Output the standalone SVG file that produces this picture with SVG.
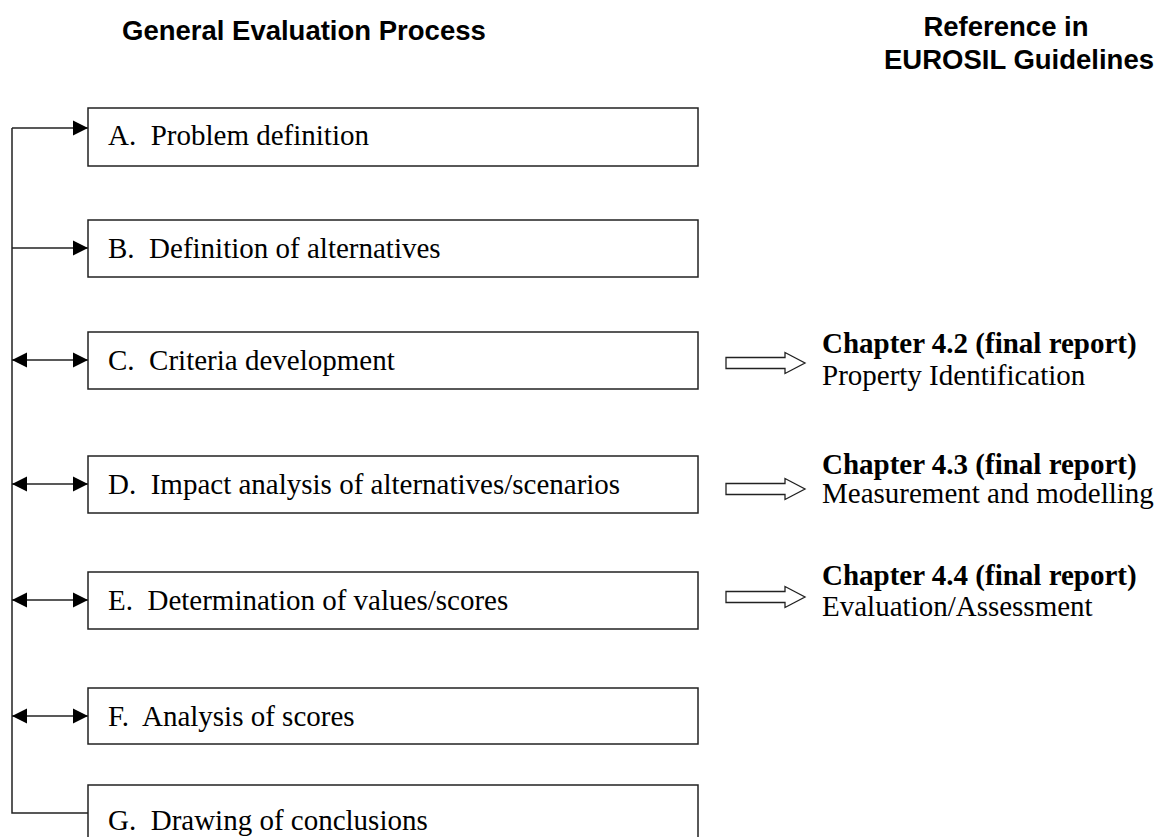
<svg xmlns="http://www.w3.org/2000/svg" width="1159" height="837" viewBox="0 0 1159 837">
<style>
.box{fill:#fff;stroke:#222;stroke-width:1.5}
.bt{font-family:"Liberation Serif","Times New Roman",serif;font-size:29px;fill:#000}
.rb{font-family:"Liberation Serif","Times New Roman",serif;font-size:29px;font-weight:bold;fill:#000}
.h{font-family:"Liberation Sans",Arial,sans-serif;font-size:27.5px;font-weight:bold;fill:#000}
.ln{fill:none;stroke:#222;stroke-width:1.5}
.hol{fill:#fff;stroke:#222;stroke-width:1.3}
</style>
<defs>
<marker id="ah" viewBox="0 0 10 10" refX="10" refY="5" markerWidth="15" markerHeight="16" markerUnits="userSpaceOnUse" orient="auto-start-reverse">
<path d="M0,0 L10,5 L0,10 z" fill="#000"/>
</marker>
<path id="hollow" d="M0,-5.5 H59 V-10.5 L79,0 L59,10.5 V5.5 H0 Z"/>
</defs>
<rect width="1159" height="837" fill="#fff"/>
<g id="headings">
<text class="h" x="122" y="40">General Evaluation Process</text>
<text class="h" x="1006" y="36" text-anchor="middle">Reference in</text>
<text class="h" x="1019" y="69" text-anchor="middle">EUROSIL Guidelines</text>
</g>
<g id="connectors">
<path class="ln" d="M12,128 V813 H88"/>
<line class="ln" x1="12" y1="128" x2="88" y2="128" marker-end="url(#ah)"/>
<line class="ln" x1="12" y1="248" x2="88" y2="248" marker-end="url(#ah)"/>
<line class="ln" x1="12" y1="360" x2="88" y2="360" marker-start="url(#ah)" marker-end="url(#ah)"/>
<line class="ln" x1="12" y1="484" x2="88" y2="484" marker-start="url(#ah)" marker-end="url(#ah)"/>
<line class="ln" x1="12" y1="600" x2="88" y2="600" marker-start="url(#ah)" marker-end="url(#ah)"/>
<line class="ln" x1="12" y1="716" x2="88" y2="716" marker-start="url(#ah)" marker-end="url(#ah)"/>
<use href="#hollow" class="hol" x="726" y="363"/>
<use href="#hollow" class="hol" x="726" y="489"/>
<use href="#hollow" class="hol" x="726" y="597"/>
</g>
<g id="nodeA"><rect class="box" x="88" y="108" width="610" height="58"/><text class="bt" x="108" y="145" xml:space="preserve">A.  Problem definition</text></g>
<g id="nodeB"><rect class="box" x="88" y="220" width="610" height="57"/><text class="bt" x="108" y="258" xml:space="preserve">B.  Definition of alternatives</text></g>
<g id="nodeC"><rect class="box" x="88" y="332" width="610" height="57"/><text class="bt" x="108" y="370" xml:space="preserve">C.  Criteria development</text></g>
<g id="nodeD"><rect class="box" x="88" y="456" width="610" height="57"/><text class="bt" x="108" y="494" xml:space="preserve">D.  Impact analysis of alternatives/scenarios</text></g>
<g id="nodeE"><rect class="box" x="88" y="572" width="610" height="57"/><text class="bt" x="108" y="610" xml:space="preserve">E.  Determination of values/scores</text></g>
<g id="nodeF"><rect class="box" x="88" y="688" width="610" height="56"/><text class="bt" x="108" y="726" xml:space="preserve">F.  Analysis of scores</text></g>
<g id="nodeG"><rect class="box" x="88" y="785" width="610" height="60"/><text class="bt" x="108" y="830" xml:space="preserve">G.  Drawing of conclusions</text></g>
<g id="ref42"><text class="rb" x="822" y="353">Chapter 4.2 (final report)</text><text class="bt" x="822" y="385">Property Identification</text></g>
<g id="ref43"><text class="rb" x="822" y="474">Chapter 4.3 (final report)</text><text class="bt" x="822" y="503">Measurement and modelling</text></g>
<g id="ref44"><text class="rb" x="822" y="585">Chapter 4.4 (final report)</text><text class="bt" x="822" y="616">Evaluation/Assessment</text></g>
</svg>
